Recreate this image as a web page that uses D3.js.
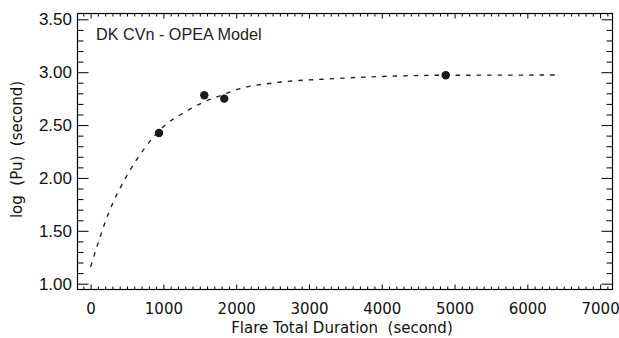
<!DOCTYPE html>
<html>
<head>
<meta charset="utf-8">
<script src="https://cdn.jsdelivr.net/npm/d3@7"></script>
<style>
  body { margin: 0; background: #fff; }
  svg { display: block; }
</style>
</head>
<body>
<div id="chart"></div>
<script>
// observed flares
const durations = [940, 1562, 1836, 4879];
const logPu = [2.425, 2.782, 2.750, 2.971];

// OPEA model curve
const modelX = [0, 245, 497, 739, 1022, 1274, 1526, 1800, 2052, 2509, 3379, 4203, 4879, 6444];
const modelY = [1.16, 1.663, 2.02, 2.278, 2.498, 2.614, 2.709, 2.782, 2.845, 2.898, 2.94, 2.964, 2.971, 2.973];

const xMajor = [0, 1000, 2000, 3000, 4000, 5000, 6000, 7000];
const yMajor = [1.0, 1.5, 2.0, 2.5, 3.0, 3.5];

const width = 619, height = 338;
const box = { left: 77.5, right: 612.5, top: 13.5, bottom: 289.5 };

const svg = d3.select('#chart').append('svg')
  .attr('width', width)
  .attr('height', height);

const x = d3.scaleLinear().domain([-180, 7170]).range([box.left, box.right]);
const y = d3.scaleLinear().domain([0.945, 3.555]).range([box.bottom, box.top]);

const xMinor = d3.range(-100, 7200, 100).filter(v => v % 1000 !== 0 && v > -180 && v < 7170);
const yMinor = d3.range(10, 36, 1).map(v => v / 10).filter(v => Math.round(v * 10) % 5 !== 0);

function styleAxis(g) {
  g.select('.domain').remove();
  g.selectAll('line').attr('stroke', '#000').attr('stroke-width', 1);
}

// bottom
svg.append('g')
  .attr('transform', `translate(0,${box.bottom})`)
  .call(d3.axisBottom(x).tickValues(xMajor).tickSize(-5).tickPadding(14).tickFormat(d3.format('d')))
  .call(styleAxis)
  .call(g => g.selectAll('text').attr('font-family', 'DejaVu Sans').attr('font-size', 15).attr('fill', '#111'));
svg.append('g')
  .attr('transform', `translate(0,${box.bottom})`)
  .call(d3.axisBottom(x).tickValues(xMinor).tickSize(-3).tickFormat(''))
  .call(styleAxis);

// top
svg.append('g')
  .attr('transform', `translate(0,${box.top})`)
  .call(d3.axisTop(x).tickValues(xMajor).tickSize(-5).tickFormat(''))
  .call(styleAxis);
svg.append('g')
  .attr('transform', `translate(0,${box.top})`)
  .call(d3.axisTop(x).tickValues(xMinor).tickSize(-3).tickFormat(''))
  .call(styleAxis);

// left
svg.append('g')
  .attr('transform', `translate(${box.left},0)`)
  .call(d3.axisLeft(y).tickValues(yMajor).tickSize(-11).tickPadding(5.5).tickFormat(d3.format('.2f')))
  .call(styleAxis)
  .call(g => g.selectAll('text').attr('font-family', 'Liberation Sans').attr('font-size', 17).attr('fill', '#111'));
svg.append('g')
  .attr('transform', `translate(${box.left},0)`)
  .call(d3.axisLeft(y).tickValues(yMinor).tickSize(-6).tickFormat(''))
  .call(styleAxis);

// right
svg.append('g')
  .attr('transform', `translate(${box.right},0)`)
  .call(d3.axisRight(y).tickValues(yMajor).tickSize(-11).tickFormat(''))
  .call(styleAxis);
svg.append('g')
  .attr('transform', `translate(${box.right},0)`)
  .call(d3.axisRight(y).tickValues(yMinor).tickSize(-6).tickFormat(''))
  .call(styleAxis);

// frame
svg.append('rect')
  .attr('x', box.left).attr('y', box.top)
  .attr('width', box.right - box.left).attr('height', box.bottom - box.top)
  .attr('fill', 'none').attr('stroke', '#000').attr('stroke-width', 1.2);

// model curve
const line = d3.line()
  .x(d => x(d[0]))
  .y(d => y(d[1]))
  .curve(d3.curveMonotoneX);

svg.append('path')
  .datum(d3.zip(modelX, modelY))
  .attr('fill', 'none')
  .attr('stroke', '#222')
  .attr('stroke-width', 1.4)
  .attr('stroke-dasharray', '4.5,6')
  .attr('d', line);

// data points
svg.selectAll('circle.pt')
  .data(d3.zip(durations, logPu))
  .join('circle')
  .attr('class', 'pt')
  .attr('cx', d => x(d[0]))
  .attr('cy', d => y(d[1]))
  .attr('r', 4.2)
  .attr('fill', '#1a1a1a');

// labels
svg.append('text')
  .attr('x', 96).attr('y', 40)
  .attr('font-family', 'Liberation Sans').attr('font-size', 16.2).attr('fill', '#222')
  .text('DK CVn - OPEA Model');

svg.append('text')
  .attr('x', (box.left + box.right) / 2 - 3).attr('y', 333)
  .attr('text-anchor', 'middle')
  .attr('font-family', 'DejaVu Sans').attr('font-size', 15).attr('fill', '#111')
  .attr('xml:space', 'preserve')
  .text('Flare Total Duration  (second)');

svg.append('text')
  .attr('transform', `translate(22,${(box.top + box.bottom) / 2 - 2}) rotate(-90)`)
  .attr('text-anchor', 'middle')
  .attr('font-family', 'DejaVu Sans').attr('font-size', 15).attr('fill', '#111')
  .attr('xml:space', 'preserve')
  .text('log  (Pu)  (second)');
</script>
</body>
</html>
